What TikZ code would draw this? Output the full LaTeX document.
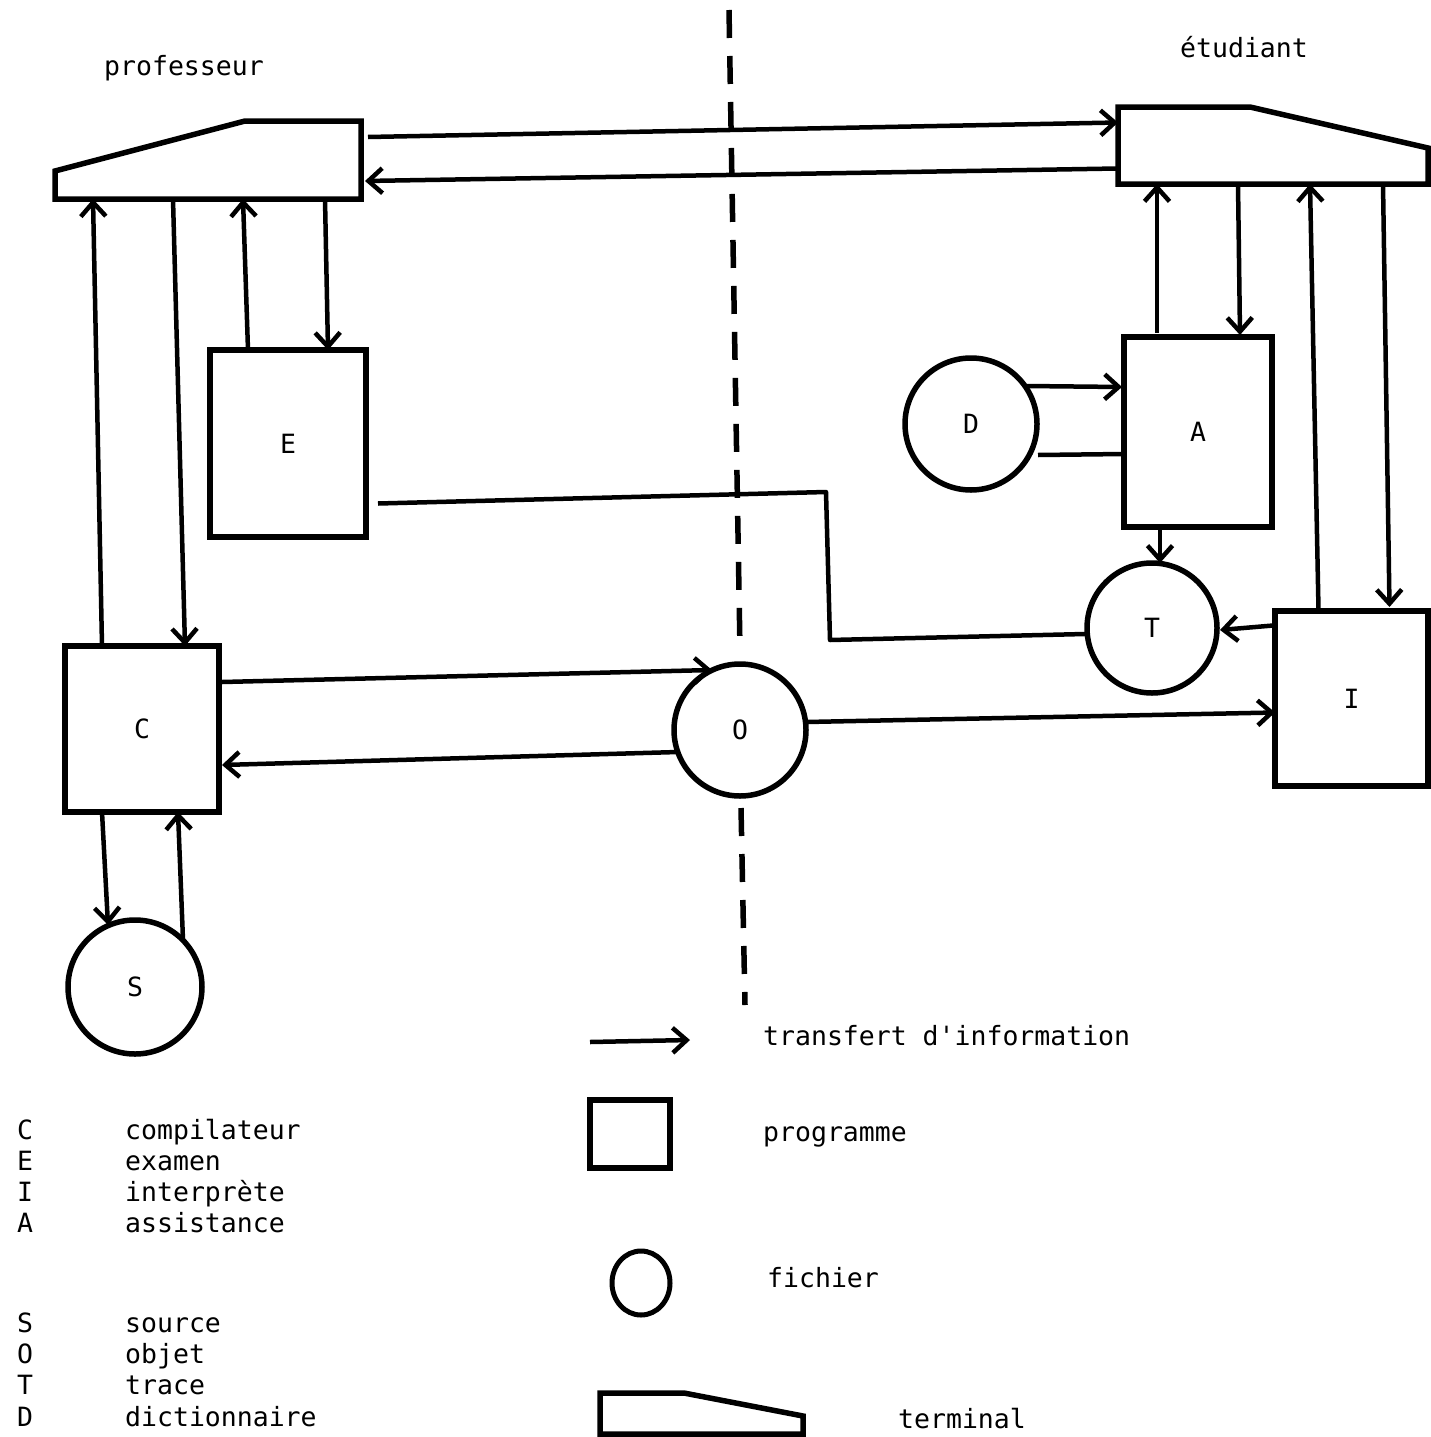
\documentclass[tikz,border=0pt]{standalone}
\usepackage{fontspec}
\setmonofont{DejaVu Sans Mono}
\usetikzlibrary{arrows.meta,calc,shapes.geometric}
\begin{document}
\begin{tikzpicture}[x=1pt,y=-1pt,
  font=\ttfamily\fontsize{26.5}{31}\selectfont,
  box/.style={draw,line width=5.5pt,rectangle,inner sep=0pt,outer sep=0pt},
  file/.style={draw,line width=5.5pt,circle,inner sep=0pt,outer sep=0pt},
  conn/.style={line width=4.5pt},
  arr/.style={conn,-{Straight Barb[length=14pt,width=25pt]}},
  term/.style={line width=5.5pt,line join=miter},
  termbox/.style={rectangle,inner sep=0pt,outer sep=0pt},
  txt/.style={anchor=base west,inner sep=0pt},
  dashline/.style={line width=5.5pt,dash pattern=on 28pt off 18pt}
]
\useasboundingbox (0,0) rectangle (1430,1437);

% terminals
\node[termbox,minimum width=306pt,minimum height=78pt] (termP) at (208,160) {};
\draw[term] (termP.south west) -- ($(termP.south west)+(0,-28)$) -- ($(termP.north east)+(-116,0)$) -- (termP.north east) -- (termP.south east) -- cycle;
\node[termbox,minimum width=310pt,minimum height=77pt] (termS) at (1273,145.5) {};
\draw[term] (termS.south west) -- (termS.north west) -- ($(termS.north west)+(132,0)$) -- ($(termS.north east)+(0,41)$) -- (termS.south east) -- cycle;

% programmes
\node[box,minimum width=156pt,minimum height=187pt] (E) at (288,443.5) {E};
\node[box,minimum width=148pt,minimum height=190pt] (A) at (1198,432) {A};
\node[box,minimum width=154pt,minimum height=166pt] (C) at (142,729) {C};
\node[box,minimum width=153pt,minimum height=175pt] (I) at (1351.5,698.5) {I};

% fichiers
\node[file,minimum size=132pt] (D) at (971,424) {D};
\node[file,minimum size=130pt] (T) at (1152,628) {T};
\node[file,minimum size=132pt] (O) at (740,730) {O};
\node[file,minimum size=134pt] (S) at (135,987) {S};

% labels
\node[txt] (prof) at (104,75) {professeur};
\node[txt] (etud) at (1180,58) {étudiant};

% dashed separator
\coordinate (sepTop) at (729,10);
\coordinate (sepBot) at (745,1005);
\draw[dashline] (sepTop) -- ($(O.north)+(0,-14)$);
\draw[dashline] ($(O.south)+(1,12)$) -- (sepBot);

% terminal <-> terminal
\draw[arr] ($(termP.east)+(7,-23)$) -- ($(termS.west)+(0,-23)$);
\draw[arr] ($(termS.west)+(-1,23)$) -- ($(termP.east)+(4,21)$);

% professeur side
\draw[arr] ($(C.north)+(-40,0)$) -- ($(termP.south)+(-115,0)$);
\draw[arr] ($(termP.south)+(-35,0)$) -- ($(C.north)+(43,0)$);
\draw[arr] ($(E.north)+(-40,0)$) -- ($(termP.south)+(35,0)$);
\draw[arr] ($(termP.south)+(117,0)$) -- ($(E.north)+(40,0)$);

% etudiant side
\draw[arr] ($(A.north)+(-41,-4)$) -- ($(termS.south)+(-116,0)$);
\draw[arr] ($(termS.south)+(-35,0)$) -- ($(A.north)+(42,-2)$);
\draw[arr] ($(I.north)+(-33,-1)$) -- ($(termS.south)+(37,0)$);
\draw[arr] ($(termS.south)+(110,0)$) -- ($(I.north)+(38,-4)$);

% D, A, T, I
\draw[arr] ($(D.center)+(55,-38)$) -- ($(A.west)+(-2,-45)$);
\draw[conn] ($(A.west)+(0,22)$) -- ($(D.center)+(67,31)$);
\draw[arr] ($(A.south)+(-38,0)$) -- ($(T.north)+(8,0)$);
\draw[arr] ($(I.west)+(-2,-73)$) -- ($(T.east)+(3,2)$);

% E -> T
\coordinate (bendA) at (826,492);
\coordinate (bendB) at (830,640);
\draw[conn,line join=round] ($(E.east)+(12,60)$) -- (bendA) -- (bendB) -- ($(T.west)+(-2,6)$);

% C, O, I
\draw[arr] ($(C.east)+(3,-47)$) -- ($(O.center)+(-28,-60)$);
\draw[arr] ($(O.center)+(-62,22)$) -- ($(C.east)+(3,36)$);
\draw[arr] ($(O.center)+(66,-8)$) -- ($(I.west)+(0,14)$);

% C, S
\draw[arr] ($(C.south)+(-40,0)$) -- ($(S.center)+(-27,-62)$);
\draw[arr] ($(S.center)+(48,-47)$) -- ($(C.south)+(36,0)$);

% legend (right)
\coordinate (legA1) at (590,1042);
\coordinate (legA2) at (690,1040);
\draw[arr] (legA1) -- (legA2);
\node[txt] (legAt) at (763,1045) {transfert d'information};
\node[box,minimum width=80pt,minimum height=68pt] (legP) at (630,1134) {};
\node[txt] (legPt) at (763,1141) {programme};
\node[draw,ellipse,line width=5pt,minimum width=58pt,minimum height=64pt,inner sep=0pt] (legF) at (641,1283) {};
\node[txt] (legFt) at (767,1287) {fichier};
\node[termbox,minimum width=203pt,minimum height=41pt] (legT) at (701.5,1413.5) {};
\draw[term] (legT.south west) -- (legT.north west) -- ($(legT.north west)+(84,0)$) -- ($(legT.north east)+(0,23)$) -- (legT.south east) -- cycle;
\node[txt] (legTt) at (898,1428) {terminal};

% legend (left)
\foreach \l/\w/\y [count=\k] in {C/compilateur/1139, E/examen/1170, I/interprète/1201, A/assistance/1232, S/source/1332, O/objet/1363, T/trace/1394, D/dictionnaire/1426}{
  \node[txt] (kl\k) at (17,\y) {\l};
  \node[txt] (kw\k) at (125,\y) {\w};
}
\end{tikzpicture}
\end{document}
